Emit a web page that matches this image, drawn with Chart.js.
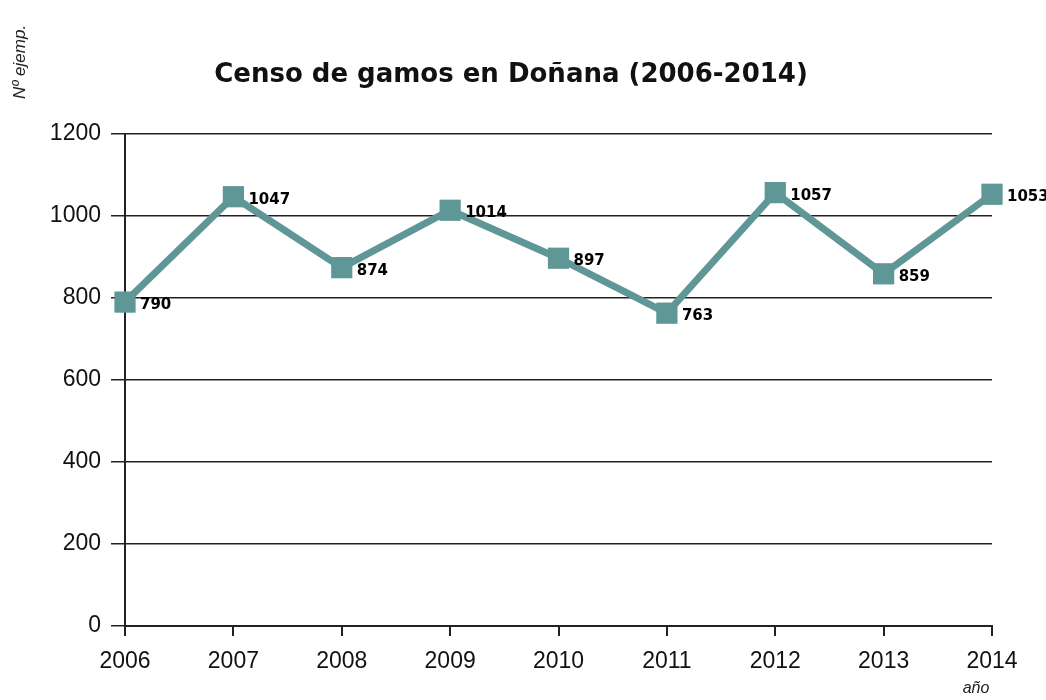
<!DOCTYPE html>
<html><head><meta charset="utf-8">
<script src="https://cdn.jsdelivr.net/npm/chart.js@4.4.0/dist/chart.umd.min.js"></script>
<style>html,body{margin:0;padding:0;background:#fff}#wrap{width:1046px;height:700px;position:relative}</style>
</head><body><div id="wrap"><canvas id="c" width="1046" height="700"></canvas></div>
<script>
const years = ['2006','2007','2008','2009','2010','2011','2012','2013','2014'];
const censo = [790, 1047, 874, 1014, 897, 763, 1057, 859, 1053];
const yTicks = [0, 200, 400, 600, 800, 1000, 1200];
const titleText = 'Censo de gamos en Doñana (2006-2014)';
const yTitle = 'Nº ejemp.';
const xTitle = 'año';

const lineColor = '#5f9696';
const decor = {
  id: 'decor',
  afterDatasetsDraw(chart) {
    const ctx = chart.ctx;
    const meta = chart.getDatasetMeta(0);
    ctx.save();
    ctx.fillStyle = '#000';
    ctx.font = 'bold 15px "DejaVu Sans"';
    ctx.textAlign = 'left';
    ctx.textBaseline = 'middle';
    meta.data.forEach((p, i) => {
      ctx.fillText(String(censo[i]), p.x + 15, p.y + 3);
    });
    ctx.restore();
  },
  afterDraw(chart) {
    const ctx = chart.ctx;
    ctx.save();
    ctx.fillStyle = '#111';
    ctx.font = 'bold 26px "DejaVu Sans"';
    ctx.textAlign = 'center';
    ctx.textBaseline = 'middle';
    ctx.fillText(titleText, 511, 75);
    ctx.font = 'italic 16px "Liberation Sans"';
    ctx.fillStyle = '#222';
    ctx.fillText(xTitle, 976, 689);
    ctx.translate(20, 62);
    ctx.rotate(-Math.PI / 2);
    ctx.font = 'italic 17px "Liberation Sans"';
    ctx.fillText(yTitle, 0, 0);
    ctx.restore();
  }
};

new Chart(document.getElementById('c'), {
  type: 'line',
  data: {
    labels: years,
    datasets: [{
      data: censo,
      borderColor: lineColor,
      backgroundColor: lineColor,
      borderWidth: 7,
      pointStyle: 'rect',
      pointRadius: 15,
      pointHoverRadius: 15,
      pointBackgroundColor: lineColor,
      pointBorderWidth: 0,
      tension: 0,
      clip: false
    }]
  },
  options: {
    responsive: false,
    animation: false,
    events: [],
    layout: { padding: { left: 0, right: 54, top: 134, bottom: 0 } },
    plugins: { legend: { display: false }, title: { display: false }, tooltip: { enabled: false } },
    scales: {
      x: {
        type: 'category',
        offset: false,
        border: { display: true, color: '#222', width: 2 },
        grid: { display: true, drawOnChartArea: false, drawTicks: true, tickLength: 10, color: '#222', lineWidth: 2 },
        ticks: { color: '#111', font: { family: 'Liberation Sans', size: 23 }, padding: 12, maxRotation: 0, autoSkip: false },
        afterFit(s) { s.height = 74; }
      },
      y: {
        min: 0, max: 1200,
        afterBuildTicks(s) { s.ticks = yTicks.map(v => ({ value: v })); },
        border: { display: true, color: '#222', width: 2 },
        grid: { color: '#222', lineWidth: 1.5, tickLength: 14, drawTicks: true },
        ticks: { color: '#111', font: { family: 'Liberation Sans', size: 23 }, padding: 10, callback: v => String(v) },
        afterFit(s) { s.width = 125; }
      }
    }
  },
  plugins: [decor]
});
</script></body></html>
